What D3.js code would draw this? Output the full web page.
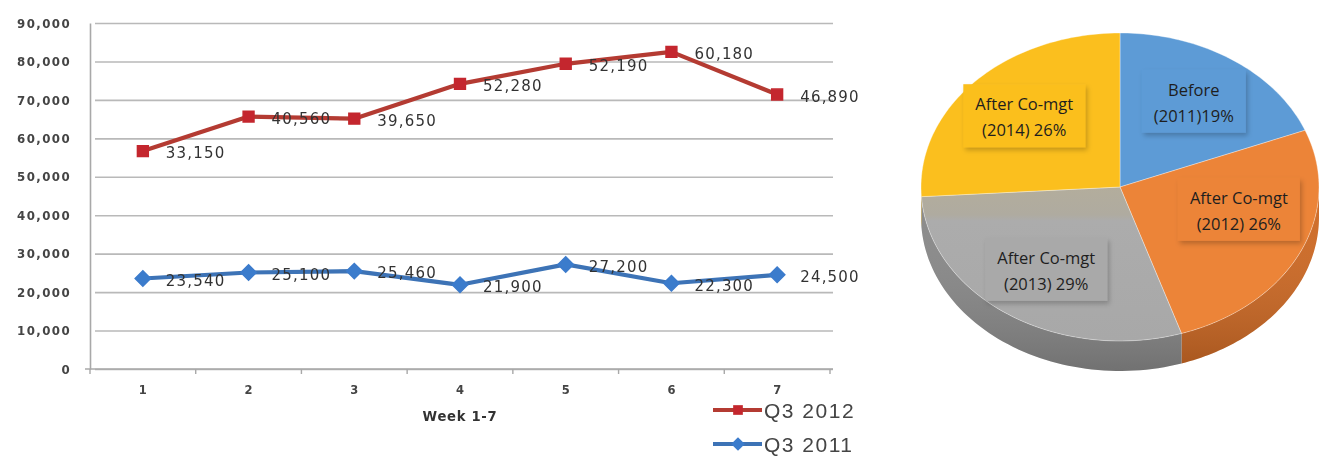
<!DOCTYPE html>
<html>
<head>
<meta charset="utf-8">
<script src="https://cdn.jsdelivr.net/npm/d3@7"></script>
<style>
  html, body { margin: 0; padding: 0; background: #fff; }
  svg { display: block; }
</style>
</head>
<body>
<svg id="chart" width="1320" height="457"></svg>
<script>
// Weekly figures, weeks 1-7
const weeks = [1, 2, 3, 4, 5, 6, 7];
const q3_2011 = [23540, 25100, 25460, 21900, 27200, 22300, 24500];
const q3_2012 = [33150, 40560, 39650, 52280, 52190, 60180, 46890];
const seriesNames = ["Q3 2011", "Q3 2012"];
const yTicks = [0, 10000, 20000, 30000, 40000, 50000, 60000, 70000, 80000, 90000];
const xTitle = "Week  1-7";

// Share by period
const pieLabels = [["Before", "(2011)19%"], ["After Co-mgt", "(2012) 26%"], ["After Co-mgt", "(2013) 29%"], ["After Co-mgt", "(2014) 26%"]];
const pieShares = [19, 26, 29, 26];

const svg = d3.select("#chart");
const defs = svg.append("defs");

// ---------- Line chart (stacked) ----------
const plot = { left: 90, right: 830, top: 23, bottom: 369 };
const x = d3.scaleBand().domain(weeks).range([plot.left, plot.right]);
const y = d3.scaleLinear().domain([0, 90000]).range([plot.bottom, plot.top]);

const rows = weeks.map((w, i) => ({ week: w, "Q3 2011": q3_2011[i], "Q3 2012": q3_2012[i] }));
const stacked = d3.stack().keys(seriesNames)(rows);

defs.append("filter").attr("id", "soft")
  .append("feGaussianBlur").attr("stdDeviation", 0.45);

const lc = svg.append("g").attr("filter", "url(#soft)");

// gridlines
lc.append("g")
  .attr("transform", `translate(${plot.left},0)`)
  .call(d3.axisLeft(y).tickValues(yTicks).tickSize(-(plot.right - plot.left + 3)).tickFormat(""))
  .call(g => g.select(".domain").remove())
  .call(g => g.selectAll("line").attr("stroke", "#b9b9b9").attr("stroke-width", 1.6).attr("x1", 5));

// y axis line + tick labels
lc.append("g")
  .attr("transform", `translate(${plot.left},0)`)
  .call(d3.axisLeft(y).tickValues(yTicks).tickSize(0).tickPadding(19).tickFormat(d3.format(",")))
  .call(g => g.select(".domain").attr("stroke", "#a8a8a8").attr("stroke-width", 1.6))
  .call(g => g.selectAll("text")
    .attr("fill", "#444").attr("font-family", "DejaVu Sans").attr("font-size", 11.8)
    .attr("font-weight", "bold").attr("letter-spacing", 1.4).attr("dy", "0.35em"));

// x axis with ticks at band edges
const xb = lc.append("g").attr("transform", `translate(0,${plot.bottom})`);
xb.append("line").attr("x1", plot.left - 5).attr("x2", plot.right + 3)
  .attr("stroke", "#a8a8a8").attr("stroke-width", 1.6);
xb.selectAll("line.tk").data(weeks.concat([null])).join("line").attr("class", "tk")
  .attr("x1", (d, i) => plot.left + i * x.step()).attr("x2", (d, i) => plot.left + i * x.step())
  .attr("y1", 0).attr("y2", 5).attr("stroke", "#a8a8a8").attr("stroke-width", 1.4);
xb.selectAll("text").data(weeks).join("text")
  .attr("x", d => x(d) + x.bandwidth() / 2).attr("y", 25)
  .attr("text-anchor", "middle").attr("fill", "#444")
  .attr("font-family", "DejaVu Sans").attr("font-size", 11.5).attr("font-weight", "bold")
  .text(d => d);
lc.append("text").attr("x", x(4) + x.bandwidth() / 2).attr("y", 421)
  .attr("text-anchor", "middle").attr("fill", "#333")
  .attr("font-family", "DejaVu Sans").attr("font-size", 13.2).attr("font-weight", "bold")
  .attr("letter-spacing", 0.7)
  .text(xTitle);

const styles = {
  "Q3 2011": { line: "#3c73b6", mark: "#3b7bcc", shape: d3.symbolDiamond2, size: 150 },
  "Q3 2012": { line: "#b43a33", mark: "#c4282e", shape: d3.symbolSquare2, size: 150 }
};
const cx = d => x(d.data.week) + x.bandwidth() / 2;

stacked.forEach(layer => {
  const st = styles[layer.key];
  const line = d3.line().x(cx).y(d => y(d[1]));
  lc.append("path").datum(layer).attr("d", line)
    .attr("fill", "none").attr("stroke", st.line).attr("stroke-width", 4.2).attr("stroke-linejoin", "round");
  lc.selectAll(null).data(layer).join("path")
    .attr("transform", d => `translate(${cx(d)},${y(d[1])})`)
    .attr("d", d3.symbol(st.shape, st.size))
    .attr("fill", st.mark).attr("stroke", st.mark).attr("stroke-width", 1.5);
  lc.selectAll(null).data(layer).join("text")
    .attr("x", d => cx(d) + 23).attr("y", d => y(d[1]) + 2)
    .attr("dy", "0.35em")
    .attr("fill", "#333").attr("font-family", "DejaVu Sans").attr("font-size", 15)
    .attr("letter-spacing", 1.2)
    .text(d => d3.format(",")(d[1] - d[0]));
});

// legend
const legend = lc.append("g");
["Q3 2012", "Q3 2011"].forEach((k, i) => {
  const st = styles[k];
  const ly = 410 + i * 34;
  legend.append("line").attr("x1", 713).attr("x2", 762).attr("y1", ly).attr("y2", ly)
    .attr("stroke", st.line).attr("stroke-width", 4);
  legend.append("path").attr("transform", `translate(738,${ly})`)
    .attr("d", d3.symbol(st.shape, 120)).attr("fill", st.mark);
  legend.append("text").attr("x", 764).attr("y", ly).attr("dy", "0.36em")
    .attr("fill", "#444").attr("font-family", "Liberation Sans").attr("font-size", 21)
    .attr("letter-spacing", 1.5)
    .text(k);
});

// ---------- 3D pie ----------
const P = { cx: 1120, cy: 187, rx: 199, ry: 154, depth: 30 };
const pieColors = ["#5d9bd6", "#ec8438", "#a9a9a9", "#fbbf1e"];
const sideColors = ["#4a7fb3", "#cf6b26", "#8a8a8a", "#d9a317"];
const arcs = d3.pie().sort(null).value(d => d)(pieShares);
const pt = (t, f = 1, dz = 0) => [P.cx + f * P.rx * Math.sin(t), P.cy - f * P.ry * Math.cos(t) + dz];
const sampled = (a0, a1, dz) => d3.range(0, 61).map(k => pt(a0 + (a1 - a0) * k / 60, 1, dz));
const pathLine = d3.line();

const gSide = defs.append("linearGradient").attr("id", "sideShade").attr("x1", 0).attr("x2", 0).attr("y1", 0).attr("y2", 1);
gSide.append("stop").attr("offset", 0).attr("stop-color", "#fff").attr("stop-opacity", 0.0);
gSide.append("stop").attr("offset", 1).attr("stop-color", "#000").attr("stop-opacity", 0.18);

const pie = svg.append("g");

// visible side wall (front half)
arcs.forEach((a, i) => {
  const t0 = Math.max(a.startAngle, Math.PI / 2), t1 = Math.min(a.endAngle, Math.PI * 1.5);
  if (t1 <= t0) return;
  const top = sampled(t0, t1, 0), bot = sampled(t0, t1, P.depth).reverse();
  pie.append("path").attr("d", pathLine(top.concat(bot)) + "Z").attr("fill", sideColors[i]);
  pie.append("path").attr("d", pathLine(top.concat(bot)) + "Z").attr("fill", "url(#sideShade)");
});

// top surface slices
const topShade = defs.append("linearGradient").attr("id", "grayBand").attr("x1", 0).attr("x2", 0).attr("y1", 0).attr("y2", 1);
topShade.append("stop").attr("offset", 0).attr("stop-color", "#b3ad9c");
topShade.append("stop").attr("offset", 0.18).attr("stop-color", "#afaba0");
topShade.append("stop").attr("offset", 0.22).attr("stop-color", "#acacac");
topShade.append("stop").attr("offset", 1).attr("stop-color", "#a8a8a8");

arcs.forEach((a, i) => {
  const pts = [[P.cx, P.cy]].concat(sampled(a.startAngle, a.endAngle, 0));
  pie.append("path").attr("d", pathLine(pts) + "Z")
    .attr("fill", i === 2 ? "url(#grayBand)" : pieColors[i])
    .attr("stroke", "#ffffff").attr("stroke-opacity", 0.35).attr("stroke-width", 1);
});

// label boxes
const shadow = defs.append("filter").attr("id", "boxShadow").attr("x", "-20%").attr("y", "-20%").attr("width", "150%").attr("height", "150%");
shadow.append("feDropShadow").attr("dx", 2).attr("dy", 3).attr("stdDeviation", 2.5)
  .attr("flood-color", "#000").attr("flood-opacity", 0.22);

arcs.forEach((a, i) => {
  const mid = (a.startAngle + a.endAngle) / 2;
  // labels on the lower-right sit higher, following the tilt of the disc
  const [lx, ly0] = pt(mid, 0.66);
  const ly = ly0 - 50 * Math.max(0, -Math.cos(mid)) * Math.max(0, Math.sin(mid));
  const g = pie.append("g");
  const rect = g.append("rect").attr("fill", pieColors[i]).attr("filter", "url(#boxShadow)");
  const t = g.append("text").attr("text-anchor", "middle")
    .attr("font-family", "Open Sans").attr("font-size", 16.5).attr("fill", "#1e1e1e");
  pieLabels[i].forEach((s, j) => {
    t.append("tspan").attr("x", lx).attr("y", ly + (j - 0.5) * 26).attr("dy", "0.35em").text(s);
  });
  const bb = t.node().getBBox();
  rect.attr("x", bb.x - 12).attr("y", bb.y - 8).attr("width", bb.width + 24).attr("height", bb.height + 14);
});
</script>
</body>
</html>
